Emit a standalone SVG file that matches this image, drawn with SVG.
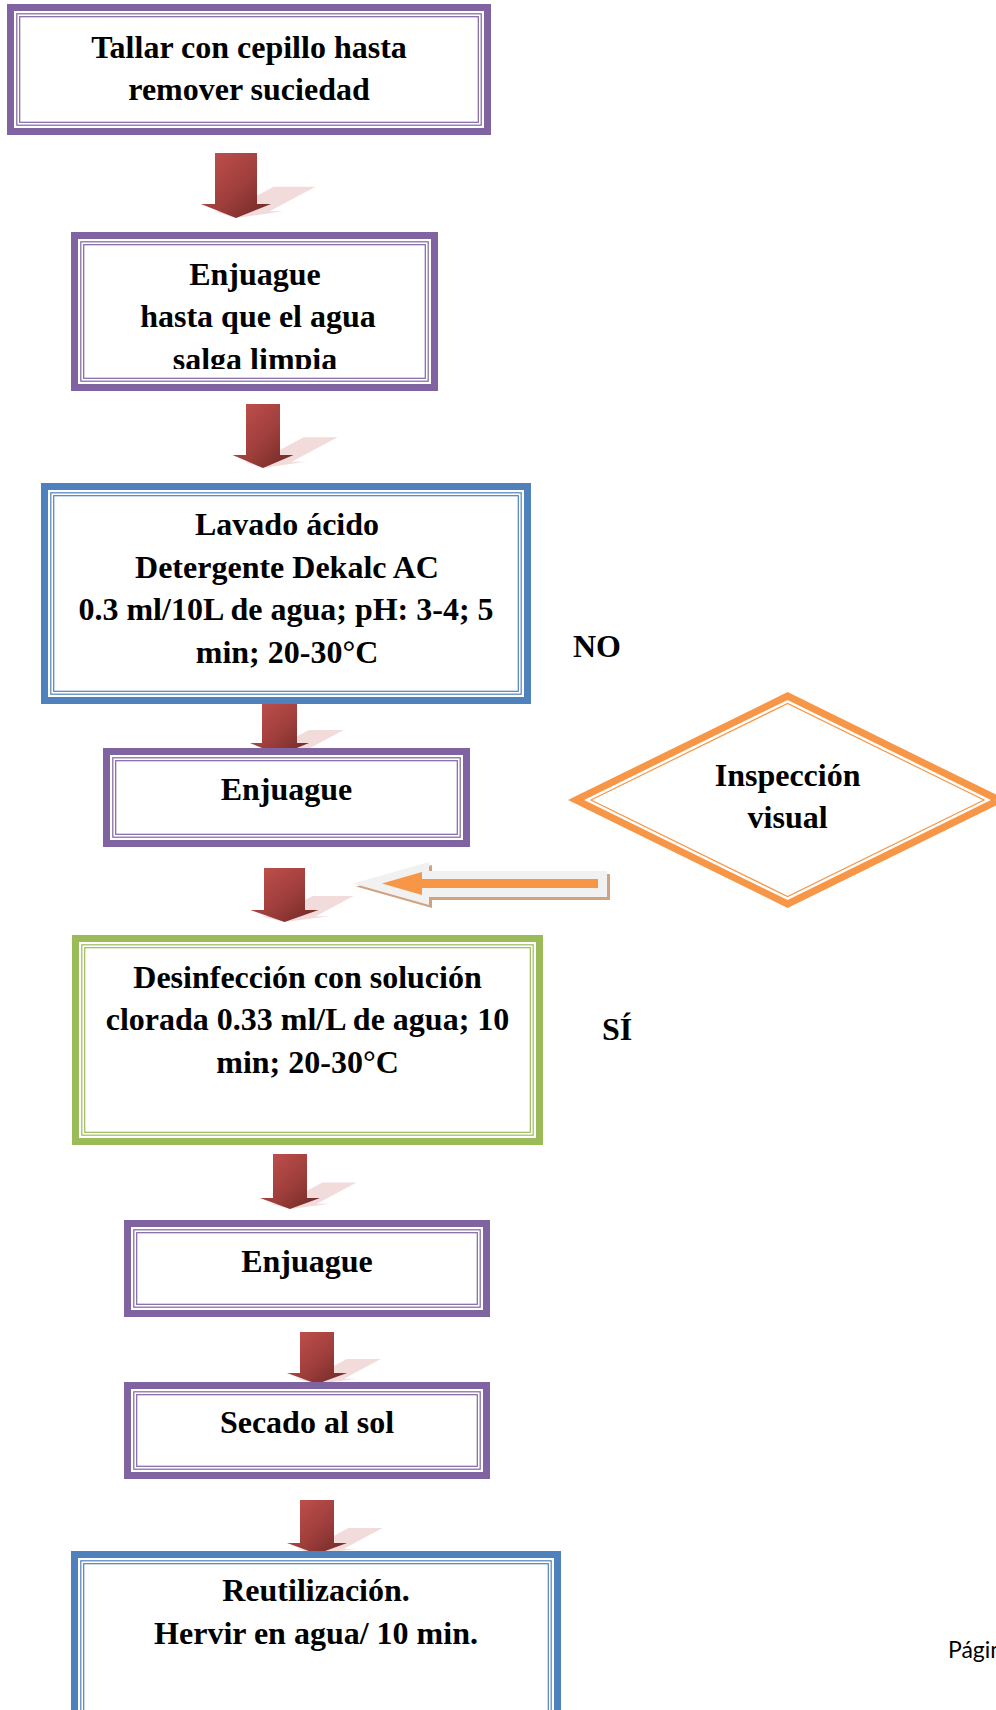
<svg xmlns="http://www.w3.org/2000/svg" width="996" height="1710" viewBox="0 0 996 1710">
  <style>
    .lbl { font-family: "Liberation Serif", "Times New Roman", serif; font-weight: bold; font-size: 32px; fill: #000; text-anchor: middle; }
    .side { font-family: "Liberation Serif", "Times New Roman", serif; font-weight: bold; font-size: 32px; fill: #000; }
    .thick { fill: #fff; stroke-width: 7; }
    .thin { fill: none; stroke-width: 1.2; }
    .purple { stroke: #8064a2; }
    .blue { stroke: #4f81bd; }
    .green { stroke: #9bbb59; }
    .orange { stroke: #f79646; }
    .down { fill: url(#redGrad); }
    .shade { fill: #f2dcdb; }
    .foot { font-family: Lato, "Noto Sans", sans-serif; font-size: 23px; fill: #000; }
  </style>
  <defs>
    <linearGradient id="redGrad" x1="0" y1="0" x2="1" y2="1">
      <stop offset="0" stop-color="#c4524f"/>
      <stop offset="0.55" stop-color="#9e3e3b"/>
      <stop offset="1" stop-color="#6a2725"/>
    </linearGradient>
    <clipPath id="clipBox2">
      <rect x="71" y="232" width="367" height="137"/>
    </clipPath>
  </defs>

  <rect x="0" y="0" width="996" height="1710" fill="#fff"/>

  <!-- connectors: block arrows with their perspective shadows, and the return arrow -->
  <g id="connectors">
    <g id="arrow1">
      <path class="shade" transform="matrix(1,0,-0.9,0.48,196.2,113.36)" d="M215,153 H257 V204 H271 L236,218 L201,204 H215 Z"/>
      <path class="down" d="M215,153 H257 V204 H271 L236,218 L201,204 H215 Z"/>
    </g>
    <g id="arrow2">
      <path class="shade" transform="matrix(1,0,-0.9,0.48,421.2,243.36)" d="M246,404 H280 V455 H293.5 L263,468 L232.5,455 H246 Z"/>
      <path class="down" d="M246,404 H280 V455 H293.5 L263,468 L232.5,455 H246 Z"/>
    </g>
    <g id="arrow3">
      <path class="shade" transform="matrix(1,0,-0.9,0.48,679.5,392.6)" d="M262,703 H297 V743 H309 L279.5,755 L250,743 H262 Z"/>
      <path class="down" d="M262,703 H297 V743 H309 L279.5,755 L250,743 H262 Z"/>
    </g>
    <g id="arrow4">
      <path class="shade" transform="matrix(1,0,-0.9,0.48,829.8,479.44)" d="M264,868 H305 V910 H318.5 L284.5,922 L250.5,910 H264 Z"/>
      <path class="down" d="M264,868 H305 V910 H318.5 L284.5,922 L250.5,910 H264 Z"/>
    </g>
    <g id="arrow5">
      <path class="shade" transform="matrix(1,0,-0.9,0.48,1088.1,628.68)" d="M273,1154 H307 V1198 H320 L290,1209 L260,1198 H273 Z"/>
      <path class="down" d="M273,1154 H307 V1198 H320 L290,1209 L260,1198 H273 Z"/>
    </g>
    <g id="arrow6">
      <path class="shade" transform="matrix(1,0,-0.9,0.48,1245.6,719.68)" d="M300,1332 H334 V1373 H347 L317,1384 L287,1373 H300 Z"/>
      <path class="down" d="M300,1332 H334 V1373 H347 L317,1384 L287,1373 H300 Z"/>
    </g>
    <g id="arrow7">
      <path class="shade" transform="matrix(1,0,-0.9,0.48,1398.6,808.08)" d="M300,1500 H334 V1543 H347 L317,1554 L287,1543 H300 Z"/>
      <path class="down" d="M300,1500 H334 V1543 H347 L317,1554 L287,1543 H300 Z"/>
    </g>
    <!-- return arrow from the inspection diamond -->
    <g id="arrowBack">
      <polygon fill="#d0a27f" points="356,886.5 432,865 432,874 610,874 610,900 432,900 432,908"/>
      <polygon fill="#f1f1f1" points="353,883.5 429,862 429,871 607,871 607,897 429,897 429,905"/>
      <polygon fill="#f79646" points="382,883.5 422,872 422,879 598,879 598,888 422,888 422,895"/>
    </g>
  </g>

  <!-- process steps -->
  <g id="step1">
    <rect class="thick purple" x="10.5" y="7.5" width="477" height="124"/>
    <rect class="thin purple" x="16.8" y="13.8" width="464.4" height="111.4"/>
    <rect class="thin purple" x="19.7" y="16.7" width="458.6" height="105.6"/>
    <text class="lbl" x="249" y="58">Tallar con cepillo hasta</text>
    <text class="lbl" x="249" y="100">remover suciedad</text>
  </g>

  <g id="step2">
    <rect class="thick purple" x="74.5" y="235.5" width="360" height="152"/>
    <rect class="thin purple" x="80.8" y="241.8" width="347.4" height="139.4"/>
    <rect class="thin purple" x="83.7" y="244.7" width="341.6" height="133.6"/>
    <g clip-path="url(#clipBox2)">
      <text class="lbl" x="255" y="285">Enjuague</text>
      <text class="lbl" x="258" y="327">hasta que el agua</text>
      <text class="lbl" x="255" y="370">salga limpia</text>
    </g>
  </g>

  <g id="step3">
    <rect class="thick blue" x="44.5" y="486.5" width="483" height="214"/>
    <rect class="thin blue" x="50.8" y="492.8" width="470.4" height="201.4"/>
    <rect class="thin blue" x="53.7" y="495.7" width="464.6" height="195.6"/>
    <text class="lbl" x="287" y="535">Lavado ácido</text>
    <text class="lbl" x="287" y="578">Detergente Dekalc AC</text>
    <text class="lbl" x="286" y="620">0.3 ml/10L de agua; pH: 3-4; 5</text>
    <text class="lbl" x="287" y="663">min; 20-30°C</text>
  </g>

  <g id="step4">
    <rect class="thick purple" x="106.5" y="751.5" width="360" height="92"/>
    <rect class="thin purple" x="112.8" y="757.8" width="347.4" height="79.4"/>
    <rect class="thin purple" x="115.7" y="760.7" width="341.6" height="73.6"/>
    <text class="lbl" x="286.5" y="800">Enjuague</text>
  </g>

  <g id="decision">
    <polygon fill="#fff" stroke="#f79646" stroke-width="7" points="576,800 787.6,696 999,800 787.6,904"/>
    <polygon class="thin orange" points="591,800 787.6,703.4 984,800 787.6,896.6"/>
    <text class="lbl" x="787.6" y="786">Inspección</text>
    <text class="lbl" x="787.6" y="828">visual</text>
  </g>

  <g id="step5">
    <rect class="thick green" x="75.5" y="938.5" width="464" height="203"/>
    <rect class="thin green" x="81.8" y="944.8" width="451.4" height="190.4"/>
    <rect class="thin green" x="84.7" y="947.7" width="445.6" height="184.6"/>
    <text class="lbl" x="307.5" y="988">Desinfección con solución</text>
    <text class="lbl" x="307.5" y="1030">clorada 0.33 ml/L de agua; 10</text>
    <text class="lbl" x="307.5" y="1073">min; 20-30°C</text>
  </g>

  <g id="step6">
    <rect class="thick purple" x="127.5" y="1223.5" width="359" height="90"/>
    <rect class="thin purple" x="133.8" y="1229.8" width="346.4" height="77.4"/>
    <rect class="thin purple" x="136.7" y="1232.7" width="340.6" height="71.6"/>
    <text class="lbl" x="307" y="1272">Enjuague</text>
  </g>

  <g id="step7">
    <rect class="thick purple" x="127.5" y="1385.5" width="359" height="90"/>
    <rect class="thin purple" x="133.8" y="1391.8" width="346.4" height="77.4"/>
    <rect class="thin purple" x="136.7" y="1394.7" width="340.6" height="71.6"/>
    <text class="lbl" x="307" y="1433">Secado al sol</text>
  </g>

  <g id="step8">
    <rect class="thick blue" x="74.5" y="1554.5" width="483" height="220"/>
    <rect class="thin blue" x="80.8" y="1560.8" width="470.4" height="210"/>
    <rect class="thin blue" x="83.7" y="1563.7" width="464.6" height="210"/>
    <text class="lbl" x="316" y="1601">Reutilización.</text>
    <text class="lbl" x="316" y="1644">Hervir en agua/ 10 min.</text>
  </g>

  <!-- branch labels -->
  <g id="labels">
    <text class="side" x="573" y="657">NO</text>
    <text class="side" x="602" y="1040">SÍ</text>
  </g>

  <text class="foot" x="948" y="1658">Página</text>
</svg>
